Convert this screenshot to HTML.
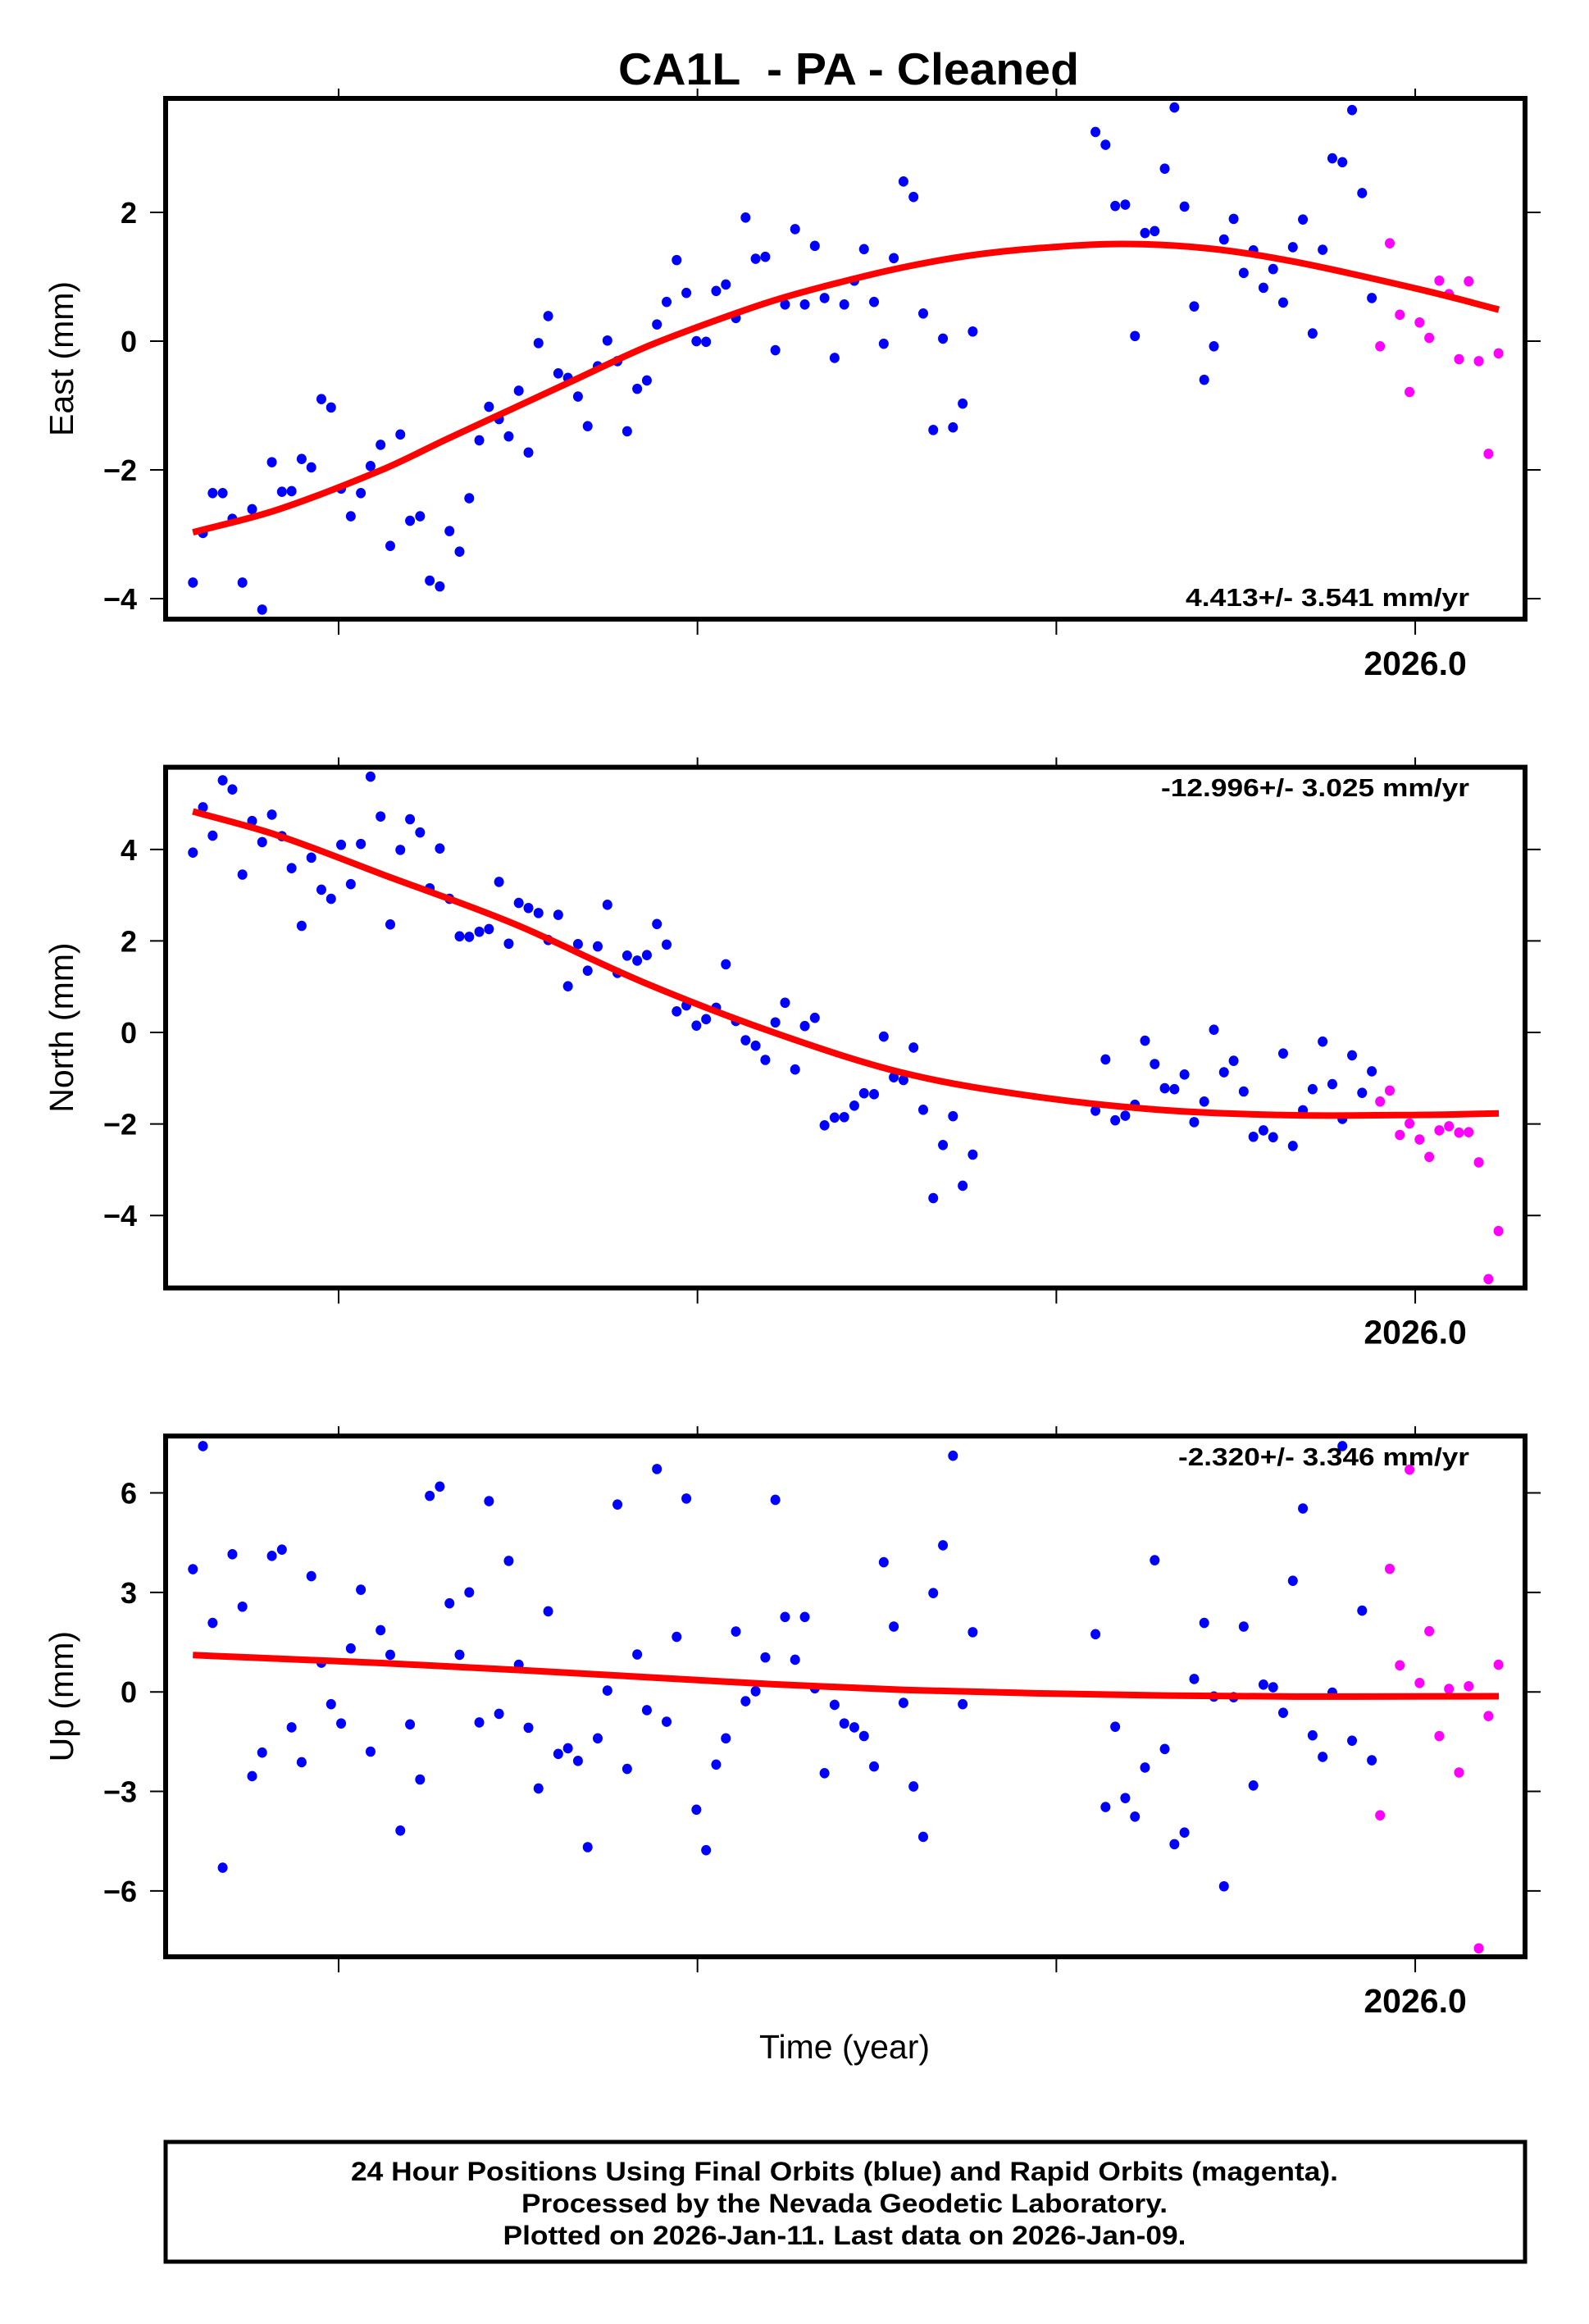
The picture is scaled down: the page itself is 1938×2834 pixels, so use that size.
<!DOCTYPE html>
<html><head><meta charset="utf-8">
<style>
html,body{margin:0;padding:0;background:#fff;}
svg{display:block;font-family:"Liberation Sans",Arial,sans-serif;}
</style></head>
<body>
<svg id="chart" width="1938" height="2834" viewBox="0 0 1938 2834" xmlns="http://www.w3.org/2000/svg">
<rect x="0" y="0" width="1938" height="2834" fill="#fff"/>
<text x="1035" y="103" text-anchor="middle" font-size="55" font-weight="bold" textLength="562" lengthAdjust="spacingAndGlyphs">CA1L&#160; - PA - Cleaned</text>
<text x="1030" y="2510" text-anchor="middle" font-size="41">Time (year)</text>
<rect x="202" y="2612" width="1658" height="146" fill="none" stroke="#000" stroke-width="5"/>
<text x="1030" y="2659" text-anchor="middle" font-size="32" font-weight="bold" textLength="1204" lengthAdjust="spacingAndGlyphs">24 Hour Positions Using Final Orbits (blue) and Rapid Orbits (magenta).</text>
<text x="1030" y="2698" text-anchor="middle" font-size="32" font-weight="bold" textLength="788" lengthAdjust="spacingAndGlyphs">Processed by the Nevada Geodetic Laboratory.</text>
<text x="1030" y="2737" text-anchor="middle" font-size="32" font-weight="bold" textLength="833" lengthAdjust="spacingAndGlyphs">Plotted on 2026-Jan-11. Last data on 2026-Jan-09.</text>
</svg>
<script>
const finalTimes = [2022.594,2022.622,2022.649,2022.677,2022.704,2022.732,2022.759,2022.787,2022.814,2022.842,2022.869,2022.897,2022.924,2022.952,2022.979,2023.007,2023.034,2023.062,2023.089,2023.117,2023.144,2023.172,2023.199,2023.227,2023.254,2023.282,2023.309,2023.337,2023.364,2023.392,2023.419,2023.447,2023.474,2023.502,2023.529,2023.557,2023.584,2023.612,2023.639,2023.667,2023.694,2023.722,2023.749,2023.777,2023.804,2023.832,2023.859,2023.887,2023.914,2023.942,2023.969,2023.997,2024.024,2024.052,2024.079,2024.107,2024.134,2024.162,2024.189,2024.217,2024.244,2024.272,2024.299,2024.327,2024.354,2024.382,2024.409,2024.437,2024.464,2024.492,2024.519,2024.547,2024.574,2024.602,2024.629,2024.657,2024.684,2024.712,2024.739,2024.767,
2025.109,2025.137,2025.164,2025.192,2025.219,2025.247,2025.274,2025.302,2025.329,2025.357,2025.384,2025.412,2025.439,2025.467,2025.494,2025.522,2025.549,2025.577,2025.604,2025.632,2025.659,2025.687,2025.714,2025.742,2025.769,2025.797,2025.824,2025.852,2025.879];
const rapidTimes = [2025.902,2025.929,2025.957,2025.984,2026.012,2026.039,2026.067,2026.094,2026.122,2026.149,2026.177,2026.204,2026.232];

const eastFinal = [-3.75,-2.98,-2.36,-2.36,-2.76,-3.75,-2.61,-4.17,-1.88,-2.34,-2.33,-1.83,-1.96,-0.90,-1.03,-2.29,-2.72,-2.36,-1.94,-1.61,-3.18,-1.45,-2.79,-2.72,-3.72,-3.81,-2.95,-3.27,-2.44,-1.54,-1.02,-1.21,-1.48,-0.77,-1.73,-0.03,0.39,-0.50,-0.57,-0.86,-1.32,-0.39,0.01,-0.31,-1.40,-0.74,-0.61,0.26,0.61,1.26,0.75,0.0,-0.01,0.78,0.88,0.36,1.92,1.28,1.31,-0.14,0.57,1.74,0.57,1.48,0.67,-0.26,0.57,0.94,1.43,0.61,-0.04,1.29,2.48,2.24,0.43,-1.38,0.04,-1.34,-0.97,0.15,
3.25,3.05,2.10,2.12,0.08,1.68,1.71,2.68,3.63,2.09,0.54,-0.60,-0.08,1.58,1.90,1.06,1.41,0.83,1.12,0.60,1.46,1.89,0.12,1.42,2.84,2.78,3.59,2.30,0.67];
const eastRapid = [-0.08,1.52,0.41,-0.79,0.29,0.05,0.94,0.73,-0.28,0.93,-0.31,-1.75,-0.19];
const eastCurveYears = [2022.594,2022.829,2023.120,2023.302,2023.484,2023.666,2023.848,2024.030,2024.212,2024.394,2024.576,2024.758,2024.940,2025.182,2025.425,2025.667,2026.031,2026.233];
const eastCurve = [-2.97,-2.62,-2.00,-1.52,-1.05,-0.58,-0.11,0.28,0.63,0.91,1.15,1.33,1.44,1.51,1.44,1.23,0.78,0.49];

const northFinal = [3.93,4.92,4.30,5.51,5.31,3.45,4.62,4.16,4.76,4.29,3.59,2.33,3.82,3.12,2.92,4.10,3.24,4.12,5.59,4.72,2.36,3.99,4.66,4.37,3.15,4.02,2.92,2.10,2.09,2.20,2.26,3.29,1.94,2.83,2.72,2.61,2.02,2.57,1.01,1.93,1.35,1.88,2.79,1.30,1.68,1.57,1.69,2.37,1.92,0.46,0.59,0.15,0.29,0.54,1.49,0.25,-0.17,-0.29,-0.60,0.22,0.65,-0.81,0.14,0.32,-2.03,-1.86,-1.85,-1.60,-1.33,-1.35,-0.09,-0.98,-1.04,-0.33,-1.69,-3.62,-2.46,-1.83,-3.35,-2.67,
-1.71,-0.59,-1.92,-1.82,-1.58,-0.18,-0.69,-1.22,-1.24,-0.92,-1.96,-1.51,0.06,-0.87,-0.62,-1.29,-2.28,-2.14,-2.29,-0.46,-2.48,-1.70,-1.24,-0.20,-1.13,-1.89,-0.50,-1.32,-0.85];
const northRapid = [-1.51,-1.27,-2.24,-1.99,-2.34,-2.72,-2.14,-2.05,-2.19,-2.18,-2.84,-5.39,-4.34];
const northCurveYears = [2022.594,2022.829,2023.120,2023.484,2023.848,2024.212,2024.576,2024.940,2025.304,2025.667,2026.031,2026.233];
const northCurve = [4.83,4.31,3.46,2.39,1.10,0.0,-0.89,-1.40,-1.70,-1.81,-1.80,-1.77];

const upFinal = [3.70,7.41,2.08,-5.30,4.15,2.57,-2.54,-1.83,4.10,4.29,-1.07,-2.12,3.49,0.88,-0.37,-0.95,1.31,3.08,-1.80,1.86,1.12,-4.18,-0.98,-2.64,5.91,6.19,2.67,1.12,3.00,-0.92,5.75,-0.66,3.95,0.82,-1.08,-2.91,2.43,-1.87,-1.70,-2.08,-4.68,-1.40,0.04,5.65,-2.32,1.13,-0.55,6.72,-0.90,1.66,5.83,-3.55,-4.77,-2.19,-1.40,1.82,-0.28,0.02,1.04,5.79,2.26,0.97,2.26,0.11,-2.45,-0.39,-0.95,-1.07,-1.33,-2.25,3.91,1.97,-0.33,-2.85,-4.37,2.98,4.42,7.12,-0.37,1.80,
1.74,-3.47,-1.05,-3.20,-3.76,-2.28,3.97,-1.72,-4.59,-4.24,0.39,2.08,-0.14,-5.86,-0.16,1.97,-2.82,0.22,0.14,-0.63,3.35,5.53,-1.31,-1.96,-0.02,7.41,-1.47,2.45,-2.06];
const upRapid = [-3.72,3.71,0.80,6.70,0.27,1.83,-1.33,0.09,-2.43,0.17,-7.73,-0.73,0.82];
const upCurveYears = [2022.594,2023.120,2023.484,2023.848,2024.212,2024.576,2024.940,2025.304,2025.667,2026.233];
const upCurve = [1.11,0.87,0.67,0.45,0.23,0.06,-0.04,-0.11,-0.14,-0.13];

const eastTicks = [-4,-2,0,2];
const northTicks = [-4,-2,0,2,4];
const upTicks = [-6,-3,0,3,6];
const yearTicks = [2023,2024,2025,2026];
const yearLabels = ["","","","2026.0"];
const rateLabels = ["4.413+/- 3.541 mm/yr","-12.996+/- 3.025 mm/yr","-2.320+/- 3.346 mm/yr"];

const NS = "http://www.w3.org/2000/svg";
const svg = document.getElementById("chart");
const X0 = 202, X1 = 1860, T0 = 2022.518, T1 = 2026.306;
function xScale(t){ return X0 + (t - T0) / (T1 - T0) * (X1 - X0); }
function mk(tag, attrs, parent){ const e = document.createElementNS(NS, tag); for (const k in attrs) e.setAttribute(k, attrs[k]); (parent||svg).appendChild(e); return e; }

const panels = [
  {key:"east", label:"East (mm)", top:120, vmin:-4.318, vmax:3.771, ticks:eastTicks, fin:eastFinal, rap:eastRapid, cy:eastCurveYears, cv:eastCurve, rateY:739, rateW:346},
  {key:"north", label:"North (mm)", top:935.6, vmin:-5.584, vmax:5.796, ticks:northTicks, fin:northFinal, rap:northRapid, cy:northCurveYears, cv:northCurve, rateY:971, rateW:376},
  {key:"up", label:"Up (mm)", top:1751.2, vmin:-7.985, vmax:7.713, ticks:upTicks, fin:upFinal, rap:upRapid, cy:upCurveYears, cv:upCurve, rateY:1787, rateW:355}
];
const H = 635;

panels.forEach(function(p, pi){
  const g = mk("g", {});
  
  
  function yScale(v){ return p.top + (p.vmax - v) / (p.vmax - p.vmin) * H; }
  const bottom = p.top + H;

  p.ticks.forEach(function(v){
    const y = yScale(v);
    const tl = mk("line", {x1:183, y1:y, x2:202, y2:y, stroke:"#000", "stroke-width":2}, g);
    
    
    const tr = mk("line", {x1:1860, y1:y, x2:1879, y2:y, stroke:"#000", "stroke-width":2}, g);
    
    
    const t = mk("text", {x:167, y:y+13, "text-anchor":"end", "font-size":36, "font-weight":"bold"}, g);
    
    
    t.textContent = (v < 0 ? "\u2212" + Math.abs(v) : String(v));
  });
  yearTicks.forEach(function(yr, i){
    const x = xScale(yr);
    const tt = mk("line", {x1:x, y1:p.top-12, x2:x, y2:p.top, stroke:"#000", "stroke-width":2}, g);
    
    
    const tb = mk("line", {x1:x, y1:bottom, x2:x, y2:bottom+19, stroke:"#000", "stroke-width":2}, g);
    
    
    if (yearLabels[i]) {
      const lt = mk("text", {x:x, y:bottom+68, "text-anchor":"middle", "font-size":41, "font-weight":"bold"}, g);
      
      
      lt.textContent = yearLabels[i];
    }
  });
  const cy = p.top + H/2;
  const yl = mk("text", {x:0, y:0, "text-anchor":"middle", "font-size":41, transform:"translate(89," + cy + ") rotate(-90)"}, g);
  
  
  yl.textContent = p.label;

  p.fin.forEach(function(v, i){
    const c = mk("ellipse", {cx:xScale(finalTimes[i]), cy:yScale(v), rx:6, ry:6.3, fill:"#0000ff"}, g);
    
    
  });
  p.rap.forEach(function(v, i){
    const c = mk("ellipse", {cx:xScale(rapidTimes[i]), cy:yScale(v), rx:6, ry:6.3, fill:"#ff00ff"}, g);
    
    
  });
  const pts = p.cy.map(function(t, i){ return [xScale(t), yScale(p.cv[i])]; });
  let d = "M" + pts[0][0] + "," + pts[0][1];
  for (let i = 0; i < pts.length - 1; i++) {
    const p0 = pts[Math.max(0, i-1)], p1 = pts[i], p2 = pts[i+1], p3 = pts[Math.min(pts.length-1, i+2)];
    const h = p2[0] - p1[0];
    const m1 = (p2[1]-p0[1])/((p2[0]-p0[0])||1), m2 = (p3[1]-p1[1])/((p3[0]-p1[0])||1);
    d += " C" + (p1[0]+h/3) + "," + (p1[1]+m1*h/3) + " " + (p2[0]-h/3) + "," + (p2[1]-m2*h/3) + " " + p2[0] + "," + p2[1];
  }
  const path = mk("path", {d:d, fill:"none", stroke:"#ff0000", "stroke-width":8}, g);
  
  

  const fr = mk("rect", {x:X0, y:p.top, width:X1-X0, height:H, fill:"none", stroke:"#000", "stroke-width":6}, g);
  
  

  const rt = mk("text", {x:1792, y:p.rateY, "text-anchor":"end", "font-size":31, "font-weight":"bold", textLength:p.rateW, lengthAdjust:"spacingAndGlyphs"}, g);
  
  
  rt.textContent = rateLabels[pi];
});
</script>
</body></html>
